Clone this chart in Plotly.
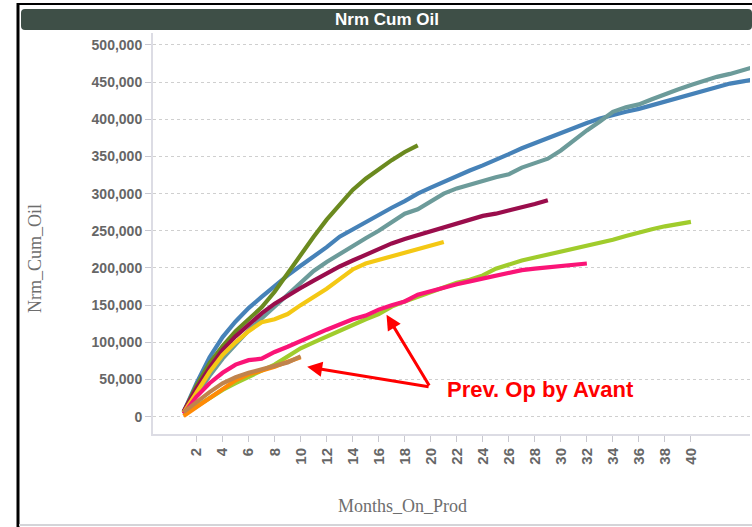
import plotly.graph_objects as go

# Normalised cumulative oil (bbl) by months on production, one list per well
olive_cum = [6000, 42000, 72000, 95000, 115000, 131000, 147000, 168000, 193000, 218000,
             242000, 265000, 285000, 305000, 320000, 333000, 345000, 356000, 365000]
blue_cum = [6000, 45000, 80000, 107000, 128000, 146000, 161000, 176000, 190000, 203000,
            215000, 228000, 242000, 252000, 262000, 271000, 281000, 290000, 300000, 308000,
            316000, 324000, 331000, 338000, 345000, 353000, 361000, 368000, 375000, 382000,
            389000, 395000, 401000, 406000, 410000, 414000, 419000, 424000, 429000, 434000,
            439000, 444000, 448000, 451000, 454000]
teal_cum = [4000, 30000, 55000, 78000, 98000, 116000, 132000, 148000, 164000, 180000,
            196000, 208000, 219000, 229000, 240000, 250000, 262000, 273000, 279000, 290000,
            300000, 307000, 312000, 318000, 322000, 326000, 335000, 341000, 347000, 358000,
            372000, 385000, 397000, 410000, 416000, 420000, 427000, 434000, 440000, 446000,
            452000, 457000, 461000, 466000, 471000]
maroon_cum = [7000, 38000, 66000, 90000, 108000, 124000, 139000, 152000, 163000, 173000,
              183000, 193000, 202000, 210000, 218000, 226000, 233000, 239000, 244000, 249000,
              254000, 260000, 265000, 270000, 273000, 277000, 281000, 286000, 291000]
yellow_cum = [5000, 32000, 60000, 83000, 100000, 115000, 127000, 131000, 138000, 150000,
              161000, 172000, 185000, 198000, 206000, 211000, 215000, 220000, 226000, 231000,
              235000]
lime_cum = [3000, 14000, 25000, 36000, 45000, 54000, 62000, 70000, 81000, 92000,
            100000, 108000, 116000, 124000, 131000, 138000, 148000, 155000, 161000, 168000,
            174000, 180000, 184000, 190000, 199000, 205000, 210000, 214000, 218000, 221000,
            226000, 230000, 234000, 238000, 243000, 248000, 252000, 256000, 259000, 262000]
pink_cum = [4000, 27000, 45000, 59000, 70000, 76000, 78000, 87000, 94000, 102000,
            110000, 117000, 124000, 131000, 136000, 144000, 150000, 155000, 164000, 169000,
            174000, 178000, 182000, 186000, 190000, 194000, 197000, 199000, 201000, 203000,
            205000, 206000]
orange_cum = [1000, 13000, 26000, 38000, 49000, 57000, 62000, 67000, 74000, 80000]
brown_cum = [6000, 20000, 33000, 45000, 53000, 59000, 64000, 68000, 73000, 81000]

x_ticks = list(range(2, 41, 2))
y_ticks = [0, 50000, 100000, 150000, 200000, 250000, 300000, 350000, 400000, 450000, 500000]

# drawing order: first listed sits underneath
series = [
    ("blue", blue_cum, "#4682B8"),
    ("teal", teal_cum, "#6C9B9A"),
    ("olive", olive_cum, "#6B8A1F"),
    ("maroon", maroon_cum, "#9A0D4C"),
    ("yellow", yellow_cum, "#F4C814"),
    ("lime", lime_cum, "#A0CC2C"),
    ("pink", pink_cum, "#FA1477"),
    ("orange", orange_cum, "#FF8A05"),
    ("brown", brown_cum, "#C0834C"),
]

W, H = 752, 527
L, R, T, B = 153, 2, 33, 93
PW, PH = W - L - R, H - T - B


def px(x):
    return (x - L) / PW


def py(y):
    return (H - B - y) / PH


fig = go.Figure()
for name, vals, color in series:
    fig.add_trace(go.Scatter(
        x=list(range(1, len(vals) + 1)), y=vals, mode="lines", name=name,
        line=dict(color=color, width=4.2), showlegend=False,
    ))

# frame, title bar and footer rule
x0, x1, y0, y1, r = px(21), px(752), py(9), py(30), 4
rx, ry = r / PW, r / PH
title_path = (f"M {x0+rx},{y0} L {x1-rx},{y0} Q {x1},{y0} {x1},{y0-ry} "
              f"L {x1},{y1+ry} Q {x1},{y1} {x1-rx},{y1} L {x0+rx},{y1} "
              f"Q {x0},{y1} {x0},{y1+ry} L {x0},{y0-ry} Q {x0},{y0} {x0+rx},{y0} Z")
shapes = [
    dict(type="path", xref="paper", yref="paper", path=title_path, layer="below",
         fillcolor="#3E4F47", line=dict(width=0)),
    dict(type="line", xref="paper", yref="paper", x0=px(18), x1=px(18), y0=py(3), y1=py(530),
         line=dict(color="#000000", width=3)),
    dict(type="line", xref="paper", yref="paper", x0=px(17), x1=px(752), y0=py(4), y1=py(4),
         line=dict(color="#000000", width=2)),
    dict(type="line", xref="paper", yref="paper", x0=px(19), x1=px(752), y0=py(525), y1=py(525),
         line=dict(color="#D4D4D8", width=2)),
]

annotations = [
    dict(text="<b>Nrm Cum Oil</b>", xref="paper", yref="paper", x=px(387), y=py(19.5),
         xanchor="center", yanchor="middle", showarrow=False,
         font=dict(family="Liberation Sans, Arial", size=17, color="#FFFFFF")),
    dict(text="Nrm_Cum_Oil", xref="paper", yref="paper", x=px(35), y=py(259), textangle=-90,
         xanchor="center", yanchor="middle", showarrow=False,
         font=dict(family="Liberation Serif, Times New Roman", size=18, color="#6E6E6E")),
    dict(text="Months_On_Prod", xref="paper", yref="paper", x=px(402), y=py(506),
         xanchor="center", yanchor="middle", showarrow=False,
         font=dict(family="Liberation Serif, Times New Roman", size=18, color="#6E6E6E")),
    dict(text="<b>Prev. Op by Avant</b>", x=21.1, y=37000, xanchor="left", yanchor="middle",
         showarrow=False, font=dict(family="Liberation Sans, Arial", size=22, color="#FF0000")),
]
for hx, hy in [(16.6, 137000), (10.5, 67000)]:
    annotations.append(dict(
        text="", x=hx, y=hy, ax=19.95, ay=40000, axref="x", ayref="y",
        showarrow=True, arrowhead=2, arrowsize=1, arrowwidth=3, arrowcolor="#FF0000",
    ))

fig.update_layout(
    width=W, height=H, margin=dict(l=L, r=R, t=T, b=B),
    paper_bgcolor="#FFFFFF", plot_bgcolor="#FFFFFF",
    shapes=shapes, annotations=annotations,
    xaxis=dict(range=[-1.35, 44.54], tickmode="array", tickvals=x_ticks,
               ticktext=[f"<b>{v}</b>" for v in x_ticks], tickangle=-90,
               tickfont=dict(family="Liberation Sans, Arial", size=15, color="#666666"),
               showgrid=False, zeroline=False, showline=True, linecolor="#DCDCE4", linewidth=2,
               ticks="outside", ticklen=6, tickcolor="#C8C8D0", tickwidth=1),
    yaxis=dict(range=[-23300, 516000], tickmode="array", tickvals=y_ticks,
               ticktext=[f"<b>{v:,}</b>" for v in y_ticks],
               tickfont=dict(family="Liberation Sans, Arial", size=14, color="#666666"),
               showgrid=True, gridcolor="#CFCFCF", griddash="dot", gridwidth=1,
               zeroline=False, showline=True, linecolor="#DCDCE4", linewidth=2,
               ticks="outside", ticklen=6, tickcolor="#C8C8D0", tickwidth=1),
)

fig.write_html("out.html")
